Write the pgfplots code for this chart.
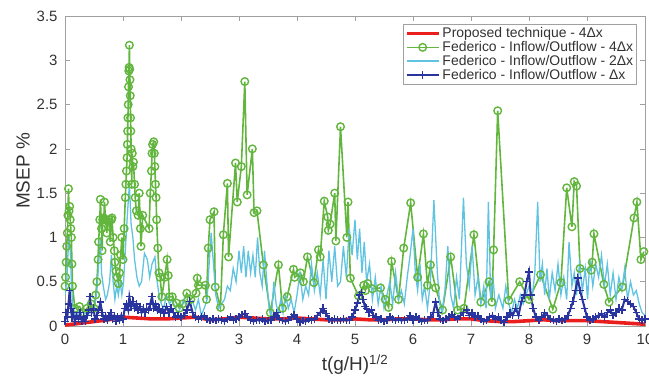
\documentclass[border=0pt]{standalone}
\usepackage{pgfplots}
\pgfplotsset{compat=1.18}
\usepackage{fontspec}
\setmainfont{Liberation Sans}
\definecolor{mgreen}{RGB}{98,182,62}
\definecolor{mcyan}{RGB}{95,195,225}
\definecolor{mblue}{RGB}{42,52,158}
\definecolor{mred}{RGB}{235,30,30}
\definecolor{axgray}{RGB}{160,160,160}
\definecolor{lblgray}{RGB}{50,50,50}
\begin{document}
\begin{tikzpicture}
\begin{axis}[
  scale only axis, width=580bp, height=310bp,
  xmin=0, xmax=10, ymin=0, ymax=3.5,
  xtick={0,1,...,10}, ytick={0,0.5,...,3.5},
  tick align=inside, xtick pos=both, ytick pos=both,
  major tick length=5bp,
  axis line style={axgray, line width=0.6bp},
  tick style={axgray, line width=0.6bp},
  /pgf/number format/assume math mode=true,
  tick label style={font=\fontsize{15}{17}\selectfont, text=lblgray},
  xticklabel style={yshift=-5bp},
  yticklabel style={xshift=-4bp},
  xlabel={t(g/H)\textsuperscript{1/2}},
  ylabel={MSEP \%},
  label style={font=\fontsize{19}{21}\selectfont, text=lblgray},
  xlabel style={yshift=-3bp},
  ylabel style={yshift=0bp},
  legend style={at={(rel axis cs:0.986,0.974)}, anchor=north east, draw=axgray,
    font=\fontsize{14}{15.5}\selectfont, text=lblgray, inner sep=1.5bp, row sep=-1.8bp},
  legend cell align=left,
  legend image code/.code={\draw[mark repeat=2,mark phase=2,#1] plot coordinates {(0bp,0bp) (16bp,0bp) (32bp,0bp)};},
]
\addplot[mred, line width=3.6bp] coordinates {
(0,0.01) (0.25,0.03) (0.5,0.05) (0.75,0.07) (1.0,0.1) (1.25,0.09) (1.5,0.08) (1.75,0.08) (2.0,0.09) (2.25,0.1) (2.5,0.07) (2.75,0.08) (3.0,0.1) (3.25,0.09) (3.5,0.08) (3.75,0.08) (4.0,0.09) (4.25,0.08) (4.5,0.07) (4.75,0.07) (5.0,0.08) (5.25,0.07) (5.5,0.07) (5.75,0.08) (6.0,0.08) (6.25,0.07) (6.5,0.07) (6.75,0.08) (7.0,0.08) (7.25,0.06) (7.5,0.05) (7.75,0.05) (8.0,0.06) (8.25,0.07) (8.5,0.06) (8.75,0.06) (9.0,0.06) (9.25,0.05) (9.5,0.04) (9.75,0.03) (10,0.02)
};
\addlegendentry{Proposed technique - 4Δx}
\addplot[mgreen, line width=1.6bp, mark=o, mark size=3.8bp, mark options={line width=1.4bp}] coordinates {
(0.00,0.45) (0.01,0.55) (0.02,0.72) (0.03,0.9) (0.04,1.05) (0.05,1.25) (0.06,1.55) (0.07,1.3) (0.08,1.35) (0.09,1.2) (0.10,1.1) (0.11,1.0) (0.12,0.7) (0.13,0.45) (0.17,0.2) (0.25,0.22) (0.32,0.15) (0.38,0.2) (0.45,0.25) (0.50,0.2) (0.53,0.35) (0.55,0.5) (0.57,0.75) (0.58,0.95) (0.60,1.2) (0.61,1.43) (0.63,1.1) (0.64,0.85) (0.65,1.2) (0.67,1.22) (0.68,1.4) (0.70,1.2) (0.72,1.05) (0.74,1.18) (0.76,1.2) (0.78,0.95) (0.80,1.2) (0.81,1.22) (0.83,1.0) (0.85,0.85) (0.86,0.72) (0.88,0.62) (0.90,0.55) (0.92,0.48) (0.94,0.6) (0.96,0.8) (0.98,1.0) (1.00,0.75) (1.02,1.1) (1.04,1.45) (1.05,1.6) (1.06,1.75) (1.07,1.9) (1.075,2.05) (1.08,2.2) (1.085,2.35) (1.09,2.5) (1.095,2.7) (1.10,2.88) (1.105,2.92) (1.11,3.17) (1.115,2.9) (1.12,2.78) (1.125,2.6) (1.13,2.35) (1.135,2.2) (1.14,2.0) (1.15,1.6) (1.16,1.95) (1.17,1.8) (1.18,1.85) (1.20,1.6) (1.21,1.45) (1.23,1.3) (1.26,1.25) (1.28,1.5) (1.30,1.1) (1.31,0.9) (1.34,1.25) (1.45,1.1) (1.47,1.5) (1.49,1.75) (1.50,1.95) (1.51,2.05) (1.53,2.08) (1.54,1.95) (1.55,1.8) (1.56,1.6) (1.57,1.45) (1.58,1.2) (1.60,0.88) (1.62,0.6) (1.64,0.55) (1.67,0.33) (1.72,0.55) (1.76,0.75) (1.78,0.57) (1.80,0.33) (1.85,0.33) (1.92,0.26) (1.97,0.2) (2.03,0.25) (2.10,0.37) (2.17,0.3) (2.26,0.37) (2.28,0.54) (2.30,0.46) (2.42,0.46) (2.44,0.3) (2.47,0.88) (2.50,1.2) (2.57,1.29) (2.59,0.44) (2.68,0.21) (2.73,1.03) (2.80,1.61) (2.82,0.78) (2.94,1.84) (2.97,1.4) (3.04,1.8) (3.10,2.76) (3.14,1.48) (3.23,2.0) (3.26,1.28) (3.31,1.3) (3.42,0.69) (3.54,0.15) (3.68,0.69) (3.75,0.2) (3.83,0.33) (3.94,0.64) (3.96,0.55) (4.06,0.6) (4.11,0.5) (4.18,0.78) (4.29,0.49) (4.37,0.86) (4.40,0.78) (4.47,1.41) (4.53,1.23) (4.54,1.08) (4.57,1.15) (4.65,1.5) (4.67,0.96) (4.75,2.25) (4.86,1.0) (4.88,1.4) (4.92,0.54) (5.06,0.34) (5.15,0.46) (5.18,0.4) (5.22,0.48) (5.30,0.42) (5.44,0.43) (5.52,0.3) (5.58,0.21) (5.63,0.73) (5.75,0.3) (5.84,0.88) (5.96,1.39) (6.08,0.55) (6.18,1.04) (6.25,0.46) (6.30,0.69) (6.39,0.43) (6.51,0.18) (6.65,0.78) (6.77,0.18) (6.88,0.2) (7.05,1.03) (7.17,0.27) (7.31,0.5) (7.36,0.27) (7.39,0.86) (7.46,2.43) (7.65,0.29) (7.84,0.5) (8.00,0.3) (8.20,0.58) (8.41,0.19) (8.55,0.49) (8.65,1.56) (8.74,1.12) (8.78,1.63) (8.82,1.58) (8.88,0.65) (9.07,0.63) (9.09,0.72) (9.12,1.04) (9.29,0.47) (9.38,0.27) (9.61,0.44) (9.81,1.22) (9.86,1.4) (9.93,0.75) (9.98,0.84)
};
\addlegendentry{Federico - Inflow/Outflow - 4Δx}
\addplot[mcyan, line width=1.3bp] coordinates {
(0.00,0.35) (0.03,0.5) (0.05,0.8) (0.07,1.0) (0.09,0.85) (0.11,0.5) (0.13,0.25) (0.16,0.15) (0.20,0.12) (0.25,0.18) (0.30,0.1) (0.35,0.15) (0.40,0.12) (0.45,0.2) (0.50,0.15) (0.55,0.4) (0.58,0.7) (0.61,1.0) (0.63,0.6) (0.66,0.45) (0.70,0.3) (0.73,0.35) (0.77,0.5) (0.80,0.8) (0.83,0.5) (0.86,0.3) (0.89,0.45) (0.92,0.35) (0.95,0.5) (0.98,0.35) (1.01,0.5) (1.04,0.85) (1.07,1.2) (1.11,1.6) (1.14,1.15) (1.17,1.0) (1.20,0.75) (1.24,0.55) (1.28,0.45) (1.32,0.5) (1.37,0.82) (1.42,0.75) (1.46,0.55) (1.50,0.7) (1.55,0.78) (1.58,0.55) (1.62,0.35) (1.66,0.25) (1.70,0.2) (1.75,0.35) (1.80,0.25) (1.85,0.3) (1.90,0.2) (1.95,0.15) (2.00,0.22) (2.05,0.3) (2.10,0.2) (2.15,0.25) (2.20,0.28) (2.25,0.18) (2.30,0.3) (2.35,0.12) (2.40,0.2) (2.45,0.3) (2.48,0.65) (2.52,1.05) (2.56,0.7) (2.60,0.35) (2.65,0.2) (2.70,0.25) (2.75,0.3) (2.80,0.45) (2.85,0.4) (2.90,0.65) (2.95,0.5) (3.00,0.85) (3.04,0.6) (3.08,0.9) (3.12,0.55) (3.16,0.85) (3.20,0.6) (3.24,0.8) (3.28,0.55) (3.32,1.0) (3.36,0.6) (3.40,0.45) (3.44,0.85) (3.48,0.5) (3.52,0.2) (3.56,0.1) (3.60,0.5) (3.64,0.25) (3.68,0.15) (3.72,0.3) (3.76,0.15) (3.80,0.35) (3.85,0.2) (3.90,0.3) (3.95,0.15) (4.00,0.35) (4.05,0.6) (4.10,0.3) (4.15,0.45) (4.20,0.35) (4.25,0.7) (4.30,0.4) (4.35,0.6) (4.40,0.35) (4.45,0.75) (4.50,0.3) (4.55,0.85) (4.60,0.5) (4.65,0.9) (4.70,0.45) (4.75,0.5) (4.80,0.9) (4.85,0.55) (4.90,1.1) (4.95,0.8) (5.00,1.2) (5.04,0.75) (5.08,1.1) (5.12,0.6) (5.16,0.95) (5.20,0.5) (5.25,0.7) (5.30,0.3) (5.35,0.55) (5.40,0.25) (5.45,0.45) (5.50,0.2) (5.55,0.35) (5.60,0.5) (5.65,0.25) (5.70,0.6) (5.75,0.3) (5.80,0.4) (5.85,0.25) (5.90,0.55) (5.95,0.8) (6.00,1.1) (6.04,0.6) (6.08,0.4) (6.12,0.7) (6.16,0.3) (6.20,0.45) (6.25,0.2) (6.30,0.5) (6.36,1.42) (6.42,0.6) (6.46,0.25) (6.50,0.15) (6.55,0.4) (6.60,0.9) (6.65,0.35) (6.70,0.2) (6.75,0.55) (6.80,0.3) (6.87,1.45) (6.92,0.7) (6.97,0.45) (7.02,0.9) (7.07,0.35) (7.12,0.55) (7.17,0.25) (7.22,0.45) (7.26,0.2) (7.30,1.4) (7.34,0.3) (7.38,0.55) (7.42,0.2) (7.48,0.35) (7.55,0.2) (7.60,0.45) (7.65,0.25) (7.70,0.15) (7.75,0.3) (7.80,0.2) (7.85,0.35) (7.90,0.25) (7.95,0.35) (8.00,0.45) (8.05,0.3) (8.10,0.6) (8.15,1.4) (8.19,0.5) (8.23,0.7) (8.27,0.35) (8.31,0.65) (8.35,0.3) (8.40,0.6) (8.45,0.4) (8.50,0.7) (8.55,0.35) (8.60,0.55) (8.65,0.3) (8.69,0.95) (8.74,0.45) (8.78,0.6) (8.82,0.35) (8.87,0.7) (8.92,0.4) (8.97,0.65) (9.01,0.3) (9.05,0.75) (9.10,0.45) (9.15,0.7) (9.20,0.55) (9.25,0.8) (9.30,0.45) (9.35,0.7) (9.40,0.35) (9.45,0.6) (9.50,0.3) (9.55,0.55) (9.60,0.4) (9.65,0.65) (9.70,0.3) (9.75,0.5) (9.80,0.35) (9.85,0.4) (9.90,0.25) (9.95,0.15) (10.0,0.12)
};
\addlegendentry{Federico - Inflow/Outflow - 2Δx}
\addplot[mblue, line width=2bp, mark=+, mark size=3.8bp, mark options={line width=1.4bp}] coordinates {
(0.00,0.05) (0.02,0.15) (0.04,0.1) (0.06,0.25) (0.08,0.4) (0.10,0.2) (0.12,0.1) (0.14,0.15) (0.17,0.05) (0.20,0.12) (0.23,0.08) (0.26,0.15) (0.29,0.05) (0.32,0.1) (0.35,0.05) (0.38,0.12) (0.41,0.18) (0.43,0.33) (0.46,0.15) (0.49,0.2) (0.52,0.08) (0.55,0.12) (0.58,0.18) (0.61,0.27) (0.64,0.15) (0.67,0.08) (0.70,0.12) (0.73,0.06) (0.76,0.1) (0.79,0.15) (0.82,0.08) (0.85,0.12) (0.88,0.05) (0.91,0.1) (0.94,0.06) (0.97,0.12) (1.00,0.08) (1.03,0.2) (1.06,0.25) (1.09,0.18) (1.11,0.33) (1.14,0.22) (1.17,0.28) (1.20,0.2) (1.23,0.25) (1.26,0.18) (1.29,0.22) (1.32,0.15) (1.35,0.2) (1.38,0.15) (1.41,0.2) (1.44,0.18) (1.47,0.25) (1.50,0.33) (1.53,0.2) (1.56,0.25) (1.59,0.18) (1.62,0.2) (1.65,0.15) (1.68,0.18) (1.71,0.14) (1.75,0.22) (1.79,0.15) (1.83,0.2) (1.87,0.15) (1.91,0.1) (1.95,0.12) (2.00,0.1) (2.05,0.12) (2.10,0.18) (2.15,0.28) (2.20,0.15) (2.25,0.1) (2.30,0.08) (2.35,0.1) (2.40,0.12) (2.45,0.08) (2.50,0.06) (2.55,0.08) (2.60,0.06) (2.65,0.08) (2.70,0.07) (2.75,0.05) (2.80,0.08) (2.85,0.1) (2.90,0.07) (2.95,0.08) (3.00,0.1) (3.05,0.13) (3.10,0.14) (3.15,0.1) (3.20,0.07) (3.25,0.05) (3.30,0.07) (3.35,0.06) (3.40,0.08) (3.45,0.05) (3.50,0.06) (3.55,0.07) (3.60,0.1) (3.65,0.15) (3.70,0.08) (3.75,0.06) (3.80,0.05) (3.85,0.07) (3.90,0.1) (3.95,0.13) (4.00,0.08) (4.05,0.04) (4.10,0.06) (4.15,0.05) (4.20,0.08) (4.25,0.07) (4.30,0.08) (4.35,0.12) (4.40,0.15) (4.45,0.2) (4.50,0.14) (4.55,0.08) (4.60,0.06) (4.65,0.08) (4.70,0.07) (4.75,0.06) (4.80,0.08) (4.85,0.06) (4.90,0.07) (4.95,0.1) (5.00,0.18) (5.04,0.26) (5.08,0.35) (5.11,0.38) (5.14,0.3) (5.17,0.22) (5.20,0.2) (5.24,0.15) (5.28,0.18) (5.32,0.12) (5.36,0.1) (5.40,0.06) (5.45,0.08) (5.50,0.05) (5.55,0.07) (5.60,0.1) (5.65,0.08) (5.70,0.06) (5.75,0.08) (5.80,0.06) (5.85,0.07) (5.90,0.08) (5.95,0.12) (6.00,0.07) (6.05,0.1) (6.10,0.08) (6.15,0.05) (6.20,0.07) (6.25,0.06) (6.30,0.1) (6.35,0.15) (6.39,0.27) (6.43,0.15) (6.47,0.08) (6.52,0.06) (6.57,0.08) (6.62,0.1) (6.67,0.13) (6.72,0.1) (6.77,0.08) (6.82,0.12) (6.87,0.15) (6.92,0.18) (6.97,0.12) (7.02,0.15) (7.07,0.1) (7.12,0.12) (7.17,0.08) (7.22,0.05) (7.27,0.07) (7.32,0.1) (7.37,0.12) (7.42,0.08) (7.47,0.1) (7.52,0.06) (7.57,0.04) (7.62,0.1) (7.67,0.15) (7.72,0.12) (7.77,0.2) (7.82,0.12) (7.87,0.28) (7.92,0.35) (7.96,0.5) (8.00,0.61) (8.03,0.35) (8.07,0.2) (8.12,0.1) (8.17,0.06) (8.22,0.1) (8.27,0.15) (8.32,0.12) (8.37,0.08) (8.42,0.07) (8.47,0.05) (8.52,0.08) (8.57,0.06) (8.62,0.08) (8.67,0.12) (8.72,0.2) (8.76,0.28) (8.80,0.4) (8.84,0.54) (8.88,0.4) (8.92,0.3) (8.96,0.2) (9.00,0.1) (9.05,0.06) (9.10,0.08) (9.15,0.1) (9.20,0.12) (9.25,0.14) (9.30,0.1) (9.35,0.15) (9.40,0.18) (9.45,0.12) (9.50,0.15) (9.55,0.2) (9.60,0.18) (9.65,0.3) (9.70,0.28) (9.75,0.25) (9.80,0.22) (9.85,0.15) (9.90,0.08) (9.95,0.07) (10.0,0.08)
};
\addlegendentry{Federico - Inflow/Outflow - Δx}
\end{axis}
\pgfresetboundingbox
\path[use as bounding box] ([shift={(-65bp,-57bp)}]current axis.south west) rectangle ([shift={(4bp,16bp)}]current axis.north east);
\end{tikzpicture}
\end{document}
